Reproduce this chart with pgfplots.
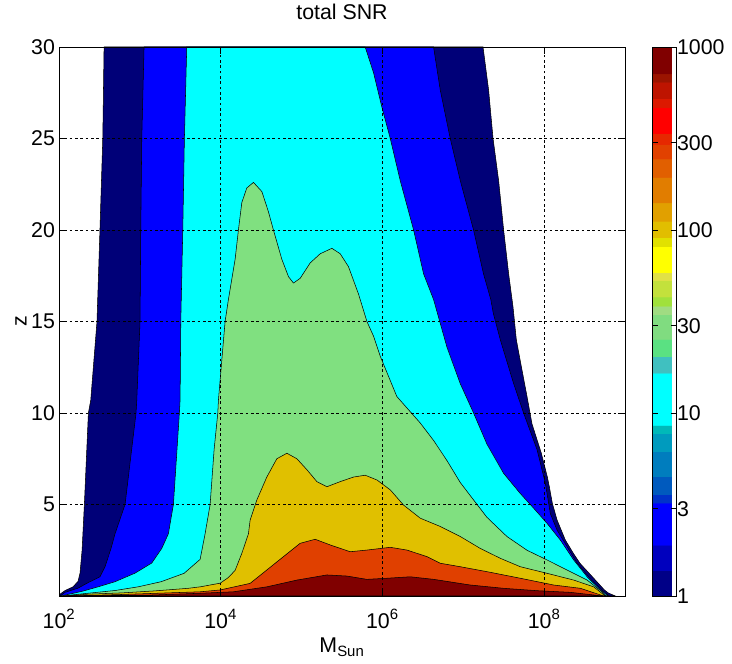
\documentclass[border=0pt]{standalone}
\usepackage{fontspec}
\setmainfont{Liberation Sans}
\usepackage{pgfplots}
\pgfplotsset{compat=1.18}
\definecolor{cNavy}{RGB}{0,0,120}
\definecolor{cBlue}{RGB}{0,0,255}
\definecolor{cCyan}{RGB}{0,255,255}
\definecolor{cGreen}{RGB}{128,224,128}
\definecolor{cGold}{RGB}{224,192,0}
\definecolor{cOrange}{RGB}{224,64,0}
\definecolor{cDark}{RGB}{128,0,0}
\begin{document}
\begin{tikzpicture}
\path[use as bounding box] (-44.25pt,-51pt) rectangle (504.75pt,447pt);
\begin{axis}[
  scale only axis, width=424.5pt, height=411.75pt,
  at={(0pt,0pt)}, anchor=south west,
  xmode=log, xmin=1e2, xmax=1e9, ymin=0, ymax=30,
  xtick={1e2,1e4,1e6,1e8},
  xticklabels={10\textsuperscript{2},10\textsuperscript{4},10\textsuperscript{6},10\textsuperscript{8}},
  ytick={5,10,15,20,25,30}, yticklabels={5,10,15,20,25,30},
  minor x tick style={draw=none},
  grid=major, grid style={black, line width=0.5pt, dash pattern=on 2pt off 2pt},
  axis on top,
  tick align=inside, major tick length=5pt,
  tick style={black, line width=0.5pt},
  axis line style={black, line width=0.6pt},
  ticklabel style={font=\fontsize{16}{19}\selectfont},
  xticklabel style={anchor=base, yshift=-24pt},
  yticklabel style={xshift=0.5pt},
  title={total SNR},
  title style={font=\fontsize{16}{19}\selectfont, at={(axis description cs:0.5,1.0364)}, anchor=base},
  xlabel={M\textsubscript{Sun}},
  xlabel style={font=\fontsize{16}{19}\selectfont, at={(axis description cs:0.5,-0.1038)}, anchor=base},
  ylabel={z},
  ylabel style={font=\fontsize{16}{19}\selectfont, at={(axis description cs:-0.0671,0.5)}, anchor=center},
  colormap={cbjet}{
    rgb255(0cm)=(0,0,135) rgb255(0.137cm)=(0,0,135)
    rgb255(0.14cm)=(0,0,190) rgb255(0.277cm)=(0,0,190)
    rgb255(0.28cm)=(0,0,255) rgb255(0.507cm)=(0,0,255)
    rgb255(0.51cm)=(0,50,200) rgb255(0.552cm)=(0,50,200)
    rgb255(0.555cm)=(0,90,190) rgb255(0.652cm)=(0,90,190)
    rgb255(0.655cm)=(0,125,190) rgb255(0.787cm)=(0,125,190)
    rgb255(0.79cm)=(0,155,190) rgb255(0.887cm)=(0,155,190)
    rgb255(0.89cm)=(0,185,185) rgb255(0.932cm)=(0,185,185)
    rgb255(0.935cm)=(0,255,255) rgb255(1.217cm)=(0,255,255)
    rgb255(1.22cm)=(64,192,192) rgb255(1.307cm)=(64,192,192)
    rgb255(1.31cm)=(90,225,130) rgb255(1.402cm)=(90,225,130)
    rgb255(1.405cm)=(128,220,128) rgb255(1.537cm)=(128,220,128)
    rgb255(1.54cm)=(160,220,130) rgb255(1.583cm)=(160,220,130)
    rgb255(1.586cm)=(160,225,60) rgb255(1.633cm)=(160,225,60)
    rgb255(1.636cm)=(195,225,60) rgb255(1.724cm)=(195,225,60)
    rgb255(1.727cm)=(225,225,70) rgb255(1.767cm)=(225,225,70)
    rgb255(1.77cm)=(255,255,0) rgb255(1.907cm)=(255,255,0)
    rgb255(1.91cm)=(225,225,0) rgb255(1.957cm)=(225,225,0)
    rgb255(1.96cm)=(225,190,0) rgb255(2.047cm)=(225,190,0)
    rgb255(2.05cm)=(225,160,0) rgb255(2.147cm)=(225,160,0)
    rgb255(2.15cm)=(225,125,0) rgb255(2.287cm)=(225,125,0)
    rgb255(2.29cm)=(225,95,0) rgb255(2.387cm)=(225,95,0)
    rgb255(2.39cm)=(225,65,0) rgb255(2.467cm)=(225,65,0)
    rgb255(2.47cm)=(230,40,0) rgb255(2.527cm)=(230,40,0)
    rgb255(2.53cm)=(255,0,0) rgb255(2.667cm)=(255,0,0)
    rgb255(2.67cm)=(220,25,0) rgb255(2.717cm)=(220,25,0)
    rgb255(2.72cm)=(190,20,0) rgb255(2.807cm)=(190,20,0)
    rgb255(2.81cm)=(155,20,0) rgb255(2.852cm)=(155,20,0)
    rgb255(2.855cm)=(128,0,0) rgb255(3cm)=(128,0,0)
  },
  point meta min=0, point meta max=3,
  colorbar,
  colorbar style={
    scale only axis, width=18pt, height=411.75pt,
    at={(parent axis.north east)}, anchor=north west, xshift=12pt,
    ymin=0, ymax=3,
    ytick={0,0.47712,1,1.47712,2,2.47712,3},
    yticklabels={1,3,10,30,100,300,1000},
    tick align=inside, major tick length=4pt,
    tick style={black, line width=0.5pt},
    axis line style={black, line width=0.6pt},
    ytick pos=both, yticklabel pos=right,
    yticklabel style={font=\fontsize{16}{19}\selectfont, xshift=-3pt},
  },
]
% level 1
\addplot[fill=cNavy, draw=black, line width=0.4pt] coordinates {
(100,0) (103,0.1) (119,0.3) (149,0.5) (172,0.8) (182,1.25) (193,2.5) (206,5) (231,10) (247,10.7) (295,15) (321,20) (348,25) (361,30)
(1.754e7,30) (2.056e7,27.65) (2.333e7,25) (2.735e7,22.7) (3.155e7,20) (3.64e7,17.6) (4.12e7,15.8) (4.53e7,14) (5.32e7,12.35) (6.14e7,10.9) (7.08e7,9.4) (9.23e7,7.8) (1.096e8,6.5) (1.159e8,5.97) (1.262e8,5.07) (1.445e8,4.15) (1.828e8,3.06) (2.30e8,2.33) (2.77e8,1.79) (3.95e8,1.05) (5.56e8,0.33) (6.24e8,0.16) (7.60e8,0)
} \closedcycle;
% level 3
\addplot[fill=cBlue, draw=black, line width=0.4pt] coordinates {
(103,0) (119,0.2) (172,0.43) (229,0.73) (321,1.05) (371,1.6) (440,2.6) (493,3.4) (656,5) (897,10) (916,10.7) (1005,15) (1026,20) (1056,25) (1127,30)
(4.29e6,30) (5.19e6,27.65) (6.90e6,25) (9.18e6,22.7) (1.34e7,20) (1.78e7,17.6) (2.19e7,16.2) (2.35e7,15.45) (2.87e7,14) (4.20e7,11.6) (5.57e7,10) (8.17e7,8.0) (1.035e8,6.16) (1.194e8,4.5) (1.445e8,3.6) (1.92e8,2.7) (2.55e8,1.8) (3.84e8,0.87) (5.18e8,0.33) (6.0e8,0.1) (6.41e8,0)
} \closedcycle;
% level 10
\addplot[fill=cCyan, draw=black, line width=0.4pt] coordinates {
(106,0) (191,0.25) (304,0.5) (493,0.78) (873,1.25) (1403,1.8) (1866,2.6) (2253,3.4) (2600,5) (3083,10) (3145,10.7) (3208,15) (3396,20) (3556,25) (3802,30)
(6.12e5,30) (7.76e5,28.6) (9.86e5,26.7) (1.25e6,25) (1.66e6,22.7) (2.43e6,20) (3.23e6,17.6) (4.29e6,16.2) (5.19e6,14.9) (6.28e6,13.6) (9.18e6,11.6) (1.34e7,10) (1.96e7,8.3) (3.155e7,6.7) (5.07e7,5.6) (7.41e7,4.8) (1.086e8,3.97) (1.585e8,3.06) (2.32e8,1.97) (3.40e8,1.05) (4.96e8,0.33) (6.0e8,0.05) (6.23e8,0)
} \closedcycle;
% level 30
\addplot[fill=cGreen, draw=black, line width=0.4pt] coordinates {
(109,0) (229,0.15) (493,0.3) (950,0.5) (1829,0.78) (3524,1.24) (5560,2.0) (6412,3.4) (7396,5) (8285,8) (9204,10) (9370,10.7) (1.032e4,12.9) (1.133e4,15) (1.245e4,16.2) (1.507e4,18.4) (1.656e4,20) (1.824e4,21.5) (2.104e4,22.3) (2.541e4,22.6) (3.228e4,22.1) (3.890e4,21.0) (4.487e4,20) (5.70e4,18.4) (6.89e4,17.45) (7.94e4,17.1) (9.61e4,17.36) (1.277e5,18.2) (1.698e5,18.7) (2.371e5,19.0) (3.006e5,18.7) (3.80e5,18.0) (5.06e5,16.5) (6.43e5,15) (7.76e5,14.2) (9.40e5,13.1) (1.507e6,10.9) (2.94e6,9.45) (4.29e6,8.5) (6.28e6,7.4) (9.18e6,6.2) (1.34e7,5.25) (1.96e7,4.3) (3.47e7,3.25) (6.14e7,2.5) (1.086e8,1.97) (1.92e8,1.42) (3.40e8,0.87) (4.96e8,0.3) (5.89e8,0)
} \closedcycle;
% level 100
\addplot[fill=cGold, draw=black, line width=0.4pt] coordinates {
(115,0) (229,0.1) (602,0.17) (1542,0.28) (3954,0.42) (5560,0.5) (9840,0.7) (1.236e4,1.0) (1.507e4,1.4) (1.824e4,2.33) (2.203e4,3.4) (2.312e4,4.15) (2.80e4,5.25) (3.715e4,6.5) (4.94e4,7.5) (6.58e4,7.8) (8.75e4,7.5) (1.164e5,6.9) (1.546e5,6.25) (2.056e5,5.97) (3.006e5,6.25) (4.39e5,6.5) (6.12e5,6.6) (8.55e5,6.34) (1.25e6,5.8) (1.824e6,4.97) (2.94e6,4.25) (5.19e6,3.8) (9.18e6,3.25) (1.622e7,2.6) (2.87e7,2.06) (5.07e7,1.6) (1.086e8,1.24) (2.32e8,0.87) (4.10e8,0.5) (5.71e8,0)
} \closedcycle;
% level 300
\addplot[fill=cOrange, draw=black, line width=0.4pt] coordinates {
(122,0) (569,0.08) (5560,0.23) (9840,0.33) (2.312e4,0.69) (3.715e4,1.42) (5.97e4,2.15) (9.61e4,2.88) (1.472e5,3.1) (2.259e5,2.79) (3.99e5,2.42) (6.43e5,2.51) (1.25e6,2.66) (2.01e6,2.51) (3.56e6,2.15) (5.19e6,1.79) (9.18e6,1.6) (1.96e7,1.33) (5.07e7,0.97) (1.312e8,0.6) (2.81e8,0.42) (5.45e8,0)
} \closedcycle;
% level 1000
\addplot[fill=cDark, draw=black, line width=0.4pt] coordinates {
(129,0) (1337,0.05) (5560,0.15) (1.436e4,0.23) (3.715e4,0.5) (8.75e4,0.87) (2.056e5,1.15) (3.64e5,1.09) (6.43e5,0.91) (1.137e6,0.97) (2.21e6,1.05) (4.29e6,0.91) (1.222e7,0.6) (3.155e7,0.42) (8.17e7,0.29) (2.11e8,0.2) (5.3e8,0)
} \closedcycle;
\end{axis}
\end{tikzpicture}
\end{document}
